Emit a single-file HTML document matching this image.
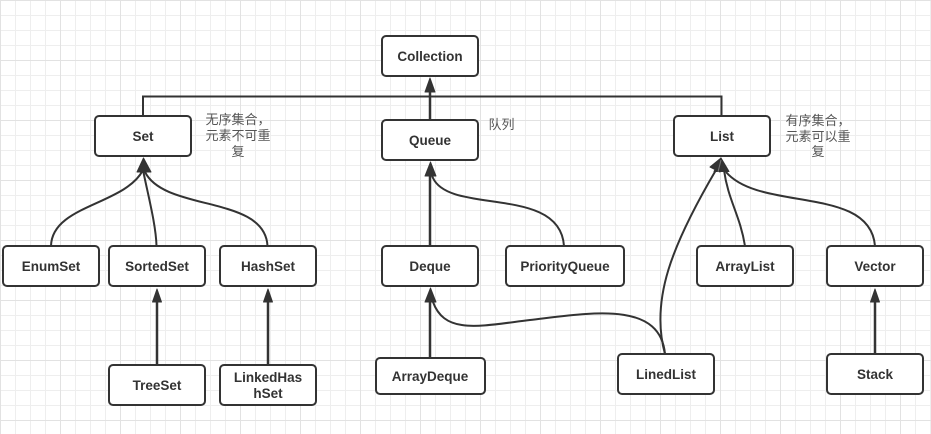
<!DOCTYPE html>
<html><head><meta charset="utf-8">
<style>
html,body{margin:0;padding:0;background:#fff;width:931px;height:434px;overflow:hidden}
svg{display:block}
.b{fill:#fff;stroke:#333;stroke-width:2}
.c{fill:none;stroke:#333;stroke-width:2}
.s{fill:none;stroke:#333;stroke-width:2.500}
.a{fill:#333;stroke:#333;stroke-width:1;stroke-linejoin:round}
.t{font-family:"Liberation Sans","Noto Sans CJK SC",sans-serif;font-size:13.5px;font-weight:bold;fill:#333;text-anchor:middle}
.n{font-family:"Noto Sans CJK SC","WenQuanYi Zen Hei",sans-serif;font-size:13px;fill:#555;text-anchor:middle}
</style></head><body>
<svg width="931" height="434" viewBox="0 0 931 434" xmlns="http://www.w3.org/2000/svg">
<defs>
<pattern id="g1" width="15" height="15" patternUnits="userSpaceOnUse" x="0" y="0">
<rect x="0" y="0" width="15" height="1" fill="#eeeeee"/>
<rect x="0" y="0" width="1" height="15" fill="#eeeeee"/>
</pattern>
<pattern id="g2" width="60" height="60" patternUnits="userSpaceOnUse" x="0" y="0">
<rect x="0" y="0" width="60" height="1" fill="#e2e2e2"/>
<rect x="0" y="0" width="1" height="60" fill="#e2e2e2"/>
</pattern>
</defs>
<rect width="931" height="434" fill="#fff"/>
<rect width="931" height="434" fill="url(#g1)"/>
<rect width="931" height="434" fill="url(#g2)"/>

<!-- connectors -->
<path class="c" d="M143 116V96.500H721.500V116"/>
<path class="s" d="M430 120V88"/>
<polygon class="a" points="430,78 425,92 435,92"/>

<path class="c" d="M51 246C52 205 125 205 143 170"/>
<path class="c" d="M156.500 246C156 225 148 195 143 170"/>
<path class="c" d="M267.500 246C265 195 165 212 145 172"/>
<polygon class="a" points="143.500,158 137,172 151,172"/>

<path class="s" d="M157 365V298"/>
<polygon class="a" points="157,289 152.500,302 161.500,302"/>
<path class="s" d="M268 365V298"/>
<polygon class="a" points="268,289 263.500,302 272.500,302"/>

<path class="s" d="M430 246V170"/>
<path class="c" d="M564 246C560 185 450 215 433 178C431 174 431 172 430 170"/>
<polygon class="a" points="430.500,162 425,176 436,176"/>

<path class="s" d="M430 358V296"/>
<path class="c" d="M665 354C660 300 590 313 530 320C480 326 445 335 433 302"/>
<polygon class="a" points="430.500,288 425,302 436,302"/>

<path class="c" d="M665 354C650 300 672 245 716 170"/>
<path class="c" d="M745 246C740 215 728 200 724 170"/>
<path class="c" d="M875 246C870 185 760 212 726 172"/>
<polygon class="a" points="721,158 729,171.500 714,171.500"/>
<polygon class="a" points="721,158 710,167 720,172"/>
<path d="M721 160L718 172" stroke="#777" stroke-width="1" fill="none"/>

<path class="s" d="M875 354V298"/>
<polygon class="a" points="875,289 870.500,302 879.500,302"/>

<!-- nodes -->
<rect class="b" x="382" y="36" width="96" height="40" rx="4"/>
<text class="t" x="430" y="61">Collection</text>
<rect class="b" x="95" y="116" width="96" height="40" rx="4"/>
<text class="t" x="143" y="141">Set</text>
<rect class="b" x="382" y="120" width="96" height="40" rx="4"/>
<text class="t" x="430" y="145">Queue</text>
<rect class="b" x="674" y="116" width="96" height="40" rx="4"/>
<text class="t" x="722" y="141">List</text>

<rect class="b" x="3" y="246" width="96" height="40" rx="4"/>
<text class="t" x="51" y="271">EnumSet</text>
<rect class="b" x="109" y="246" width="96" height="40" rx="4"/>
<text class="t" x="157" y="271">SortedSet</text>
<rect class="b" x="220" y="246" width="96" height="40" rx="4"/>
<text class="t" x="268" y="271">HashSet</text>
<rect class="b" x="382" y="246" width="96" height="40" rx="4"/>
<text class="t" x="430" y="271">Deque</text>
<rect class="b" x="506" y="246" width="118" height="40" rx="4"/>
<text class="t" x="565" y="271">PriorityQueue</text>
<rect class="b" x="697" y="246" width="96" height="40" rx="4"/>
<text class="t" x="745" y="271">ArrayList</text>
<rect class="b" x="827" y="246" width="96" height="40" rx="4"/>
<text class="t" x="875" y="271">Vector</text>

<rect class="b" x="109" y="365" width="96" height="40" rx="4"/>
<text class="t" x="157" y="390">TreeSet</text>
<rect class="b" x="220" y="365" width="96" height="40" rx="4"/>
<text class="t" x="268" y="382">LinkedHas</text>
<text class="t" x="268" y="398">hSet</text>
<rect class="b" x="376" y="358" width="109" height="36" rx="4"/>
<text class="t" x="430" y="381">ArrayDeque</text>
<rect class="b" x="618" y="354" width="96" height="40" rx="4"/>
<text class="t" x="666" y="379">LinedList</text>
<rect class="b" x="827" y="354" width="96" height="40" rx="4"/>
<text class="t" x="875" y="379">Stack</text>

<!-- notes -->
<text class="n" x="238" y="124">无序集合，</text>
<text class="n" x="238" y="140">元素不可重</text>
<text class="n" x="238" y="156">复</text>
<text class="n" x="501.500" y="129">队列</text>
<text class="n" x="818" y="125">有序集合，</text>
<text class="n" x="818" y="141">元素可以重</text>
<text class="n" x="818" y="156">复</text>
</svg>
</body></html>
